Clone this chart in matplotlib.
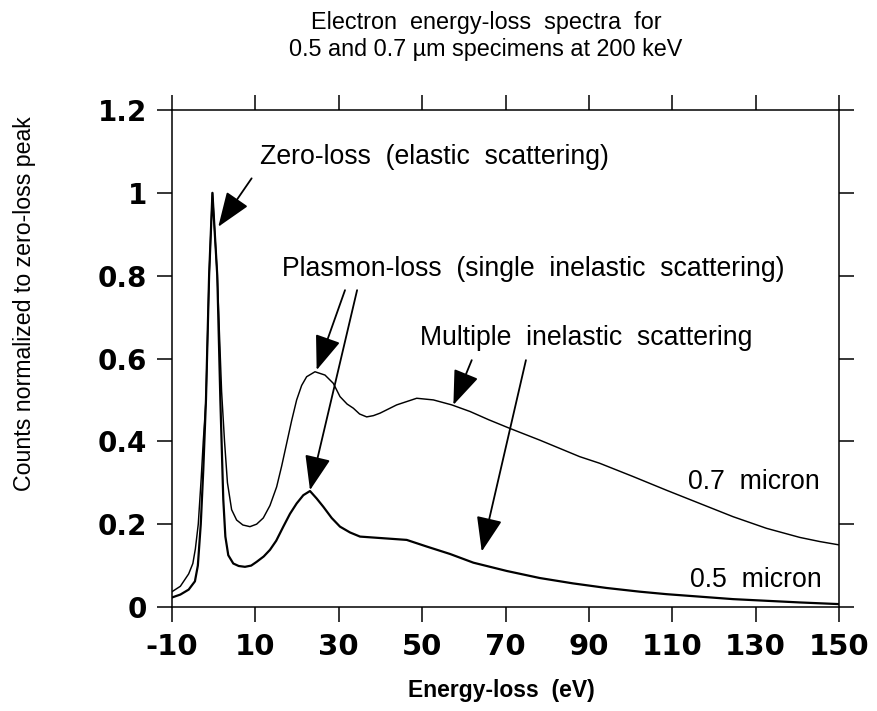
import matplotlib
matplotlib.use("Agg")
import matplotlib.pyplot as plt

plt.rcParams['font.family'] = ['Liberation Sans', 'DejaVu Sans']

# ---- data ----
energy_07 = [-10, -8, -6, -5, -4.4, -3.7, -3, -2.5, -1.85, -1.1, -0.3, 0.86, 1.9, 2.6,
             3.3, 4.3, 5.5, 7, 8.7, 10.3, 11.9, 13.5, 15.1, 16.3, 17.5, 18.7, 19.9,
             21.1, 22.3, 24.3, 26.7, 28.7, 30.3, 32, 33.5, 35, 36.7, 38.3, 39.9, 43.9,
             48.7, 52.7, 57.1, 61.5, 66, 71.1, 78.2, 87.8, 92.6, 100.6, 108.6, 116.6,
             124.6, 132.6, 140.6, 145.4, 150]
counts_07 = [0.037, 0.05, 0.08, 0.105, 0.14, 0.2, 0.31, 0.4, 0.5, 0.8, 1.0, 0.8, 0.52,
             0.4, 0.3, 0.235, 0.21, 0.198, 0.194, 0.2, 0.215, 0.245, 0.29, 0.34,
             0.395, 0.45, 0.5, 0.535, 0.556, 0.568, 0.56, 0.54, 0.508, 0.49, 0.48,
             0.466, 0.459, 0.462, 0.468, 0.488, 0.504, 0.5, 0.488, 0.472, 0.452, 0.431,
             0.403, 0.363, 0.347, 0.315, 0.282, 0.25, 0.218, 0.19, 0.168, 0.158, 0.15]

energy_05 = [-10, -8, -6, -4.5, -3.8, -3.1, -2.5, -1.85, -1.1, -0.3, 0.86, 1.6, 2.3,
             2.8, 3.5, 4.7, 6, 7.5, 9, 10.3, 12, 13.5, 15, 16.7, 18.3, 19.9, 21.5,
             23.1, 24.7, 26.3, 28.3, 30.3, 32.7, 35.1, 40.7, 46.3, 51.1, 56.7, 62.3,
             70.3, 78.2, 86.2, 94.2, 102.2, 108.6, 116.6, 124.6, 132.6, 140.6, 150]
counts_05 = [0.023, 0.03, 0.042, 0.062, 0.1, 0.2, 0.33, 0.5, 0.8, 1.0, 0.8, 0.5, 0.26,
             0.17, 0.125, 0.105, 0.099, 0.097, 0.1, 0.109, 0.122, 0.138, 0.16, 0.194,
             0.225, 0.25, 0.27, 0.28, 0.262, 0.242, 0.215, 0.194, 0.18, 0.17, 0.166,
             0.162, 0.146, 0.128, 0.107, 0.087, 0.07, 0.057, 0.046, 0.037, 0.031,
             0.025, 0.019, 0.015, 0.011, 0.007]

x_ticks = [-10, 10, 30, 50, 70, 90, 110, 130, 150]
x_tick_labels = ["-10", "10", "30", "50", "70", "90", "110", "130", "150"]
y_ticks = [0, 0.2, 0.4, 0.6, 0.8, 1.0, 1.2]
y_tick_labels = ["0", "0.2", "0.4", "0.6", "0.8", "1", "1.2"]

title_text = "Electron  energy-loss  spectra  for\n0.5 and 0.7 \u00b5m specimens at 200 keV"
x_label = "Energy-loss  (eV)"
y_label = "Counts normalized to zero-loss peak"

# ---- figure ----
fig = plt.figure(figsize=(8.77, 7.11), dpi=100)
ax = fig.add_axes([172/877, 1-607/711, (839-172)/877, (607-110)/711])

ax.plot(energy_07, counts_07, color='black', lw=1.05)
ax.plot(energy_05, counts_05, color='black', lw=1.6)

tick_font = ['DejaVu Sans']
ax.set_xlim(-10, 150)
ax.set_ylim(0, 1.2)
ax.set_xticks(x_ticks)
ax.set_xticklabels(x_tick_labels, fontsize=21, fontweight='bold', family=tick_font)
ax.set_yticks(y_ticks)
ax.set_yticklabels(y_tick_labels, fontsize=20, fontweight='bold', family=tick_font)
ax.tick_params(axis='both', direction='out', length=11, width=1.1,
               top=True, right=True, color='black')
ax.tick_params(axis='x', pad=8)
ax.tick_params(axis='y', pad=7)
for s in ax.spines.values():
    s.set_linewidth(1.1)

fig.text(486/877, 1-36/711, title_text, ha='center', va='center',
         fontsize=16.8, linespacing=1.25)
fig.text(501/877, 1-690/711, x_label, ha='center', va='center',
         fontsize=16.5, fontweight='bold')
fig.text(25/877, 1-304/711, y_label, ha='center', va='center',
         fontsize=16.7, rotation=90)

ann_fs = 19.2
arrow_kw = dict(arrowstyle='-|>,head_length=1.2,head_width=0.45', color='black',
                lw=1.3, mutation_scale=18, shrinkA=0, shrinkB=0)

ax.text(11.1, 1.087, "Zero-loss  (elastic  scattering)", fontsize=ann_fs,
        ha='left', va='center')
ax.annotate("", xy=(1.1, 0.918), xytext=(9.1, 1.035), arrowprops=arrow_kw)

ax.text(16.5, 0.816, "Plasmon-loss  (single  inelastic  scattering)", fontsize=ann_fs,
        ha='left', va='center')
ax.annotate("", xy=(24.7, 0.572), xytext=(31.5, 0.765), arrowprops=arrow_kw)
ax.annotate("", xy=(23.1, 0.282), xytext=(34.4, 0.765), arrowprops=arrow_kw)

ax.text(49.5, 0.65, "Multiple  inelastic  scattering", fontsize=ann_fs,
        ha='left', va='center')
ax.annotate("", xy=(57.5, 0.488), xytext=(61.9, 0.596), arrowprops=arrow_kw)
ax.annotate("", xy=(64.3, 0.134), xytext=(74.9, 0.596), arrowprops=arrow_kw)

ax.text(113.7, 0.302, "0.7  micron", fontsize=ann_fs, ha='left', va='center')
ax.text(114.2, 0.065, "0.5  micron", fontsize=ann_fs, ha='left', va='center')

fig.savefig("out.png", dpi=100)
